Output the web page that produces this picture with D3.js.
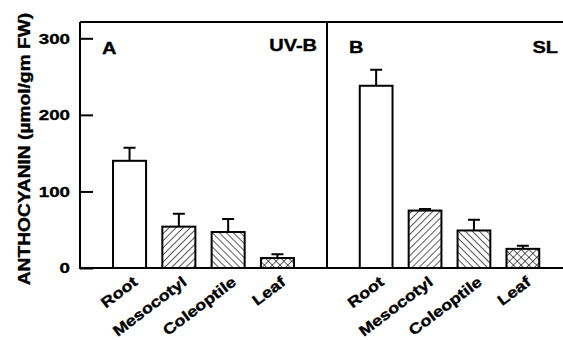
<!DOCTYPE html>
<html lang="en">
<head>
    <meta charset="UTF-8">
    <title>Anthocyanin</title>
    <style>
        body {
            margin: 0;
            background: #fff;
        }

        svg text {
            font-family: 'Liberation Sans', Arial, Helvetica, sans-serif;
            font-weight: bold;
            fill: #000;
            stroke: #000;
            stroke-width: 0.35;
        }

        .frame {
            stroke: #000;
            stroke-width: 2;
            fill: none;
        }

        .bar {
            stroke: #000;
            stroke-width: 2;
        }

        .err {
            stroke: #000;
            stroke-width: 2;
            fill: none;
        }
    </style>
</head>
<body>
    <div id="plot"></div>

    <script src="https://d3js.org/d3.v7.min.js"></script>
    <script>
        // data
        const organs = ["Root", "Mesocotyl", "Coleoptile", "Leaf"];
        const fills = ["none", "diagUp", "diagDown", "cross"];
        const uvbMeans = [140, 54, 47, 13];
        const uvbErrors = [17, 17, 17, 5];
        const slMeans = [238, 75, 49, 25];
        const slErrors = [21, 2, 14, 4];
        const yTicks = [0, 100, 200, 300];
        const panels = [
            { letter: "A", light: "UV-B", means: uvbMeans, errors: uvbErrors },
            { letter: "B", light: "SL", means: slMeans, errors: slErrors }
        ];

        const width = 563;
        const height = 340;
        const margin = { top: 22, left: 80, bottom: 72 };
        const plotBottom = height - margin.bottom;   // y of the zero line
        const divider = 327;
        const stretch = 1.25;   // the printed font is wider than Arial

        const svg = d3.select('#plot')
            .append('svg')
            .attr('width', width)
            .attr('height', height);

        // hatch patterns
        const defs = svg.append('defs');
        const hatch = (id, angle, size) => {
            const p = defs.append('pattern')
                .attr('id', id)
                .attr('patternUnits', 'userSpaceOnUse')
                .attr('width', size)
                .attr('height', size)
                .attr('patternTransform', `rotate(${angle})`);
            p.append('rect').attr('width', size).attr('height', size).attr('fill', '#fff');
            p.append('line')
                .attr('x1', 0).attr('y1', 0).attr('x2', 0).attr('y2', size)
                .attr('stroke', '#000').attr('stroke-width', 1.3);
        };
        hatch('diagUp', 45, 5);
        hatch('diagDown', -45, 5);

        const cross = defs.append('pattern')
            .attr('id', 'cross')
            .attr('patternUnits', 'userSpaceOnUse')
            .attr('width', 5.5)
            .attr('height', 5.5)
            .attr('patternTransform', 'rotate(45)');
        cross.append('rect').attr('width', 5.5).attr('height', 5.5).attr('fill', '#fff');
        cross.append('line').attr('x1', 0).attr('y1', 0).attr('x2', 0).attr('y2', 5.5)
            .attr('stroke', '#000').attr('stroke-width', 1.2);
        cross.append('line').attr('x1', 0).attr('y1', 0).attr('x2', 5.5).attr('y2', 0)
            .attr('stroke', '#000').attr('stroke-width', 1.2);

        const yScale = d3.scaleLinear()
            .domain([0, 300])
            .range([plotBottom, 38.3]);

        const panelRanges = [[margin.left, divider], [divider, 572]];

        // y axis, ticks pointing inward
        const yAxis = d3.axisRight(yScale)
            .tickValues(yTicks)
            .tickSize(13)
            .tickFormat('');

        svg.append('g')
            .attr('class', 'y axis')
            .attr('transform', `translate(${margin.left}, 0)`)
            .call(yAxis)
            .call(g => g.select('.domain').remove())
            .call(g => g.selectAll('.tick line').attr('stroke', '#000').attr('stroke-width', 2));

        svg.append('g')
            .selectAll('text')
            .data(yTicks)
            .enter()
            .append('text')
            .attr('transform', d => `translate(${margin.left - 10}, ${yScale(d)}) scale(${stretch}, 1)`)
            .attr('dy', '0.36em')
            .attr('text-anchor', 'end')
            .attr('font-size', 15)
            .text(d => d);

        // y title
        svg.append('text')
            .attr('transform', `translate(29.5, ${(15 + 283) / 2}) rotate(-90) scale(1.2, 1)`)
            .attr('text-anchor', 'middle')
            .attr('font-size', 16)
            .text('ANTHOCYANIN (\u00b5mol/gm FW)');

        panels.forEach((panel, pi) => {
            const xScale = d3.scaleBand()
                .domain(organs)
                .range(panelRanges[pi])
                .paddingInner(0.33)
                .paddingOuter(0.67);

            const g = svg.append('g');

            g.selectAll('.bar')
                .data(organs)
                .enter()
                .append('rect')
                .attr('class', 'bar')
                .attr('x', d => xScale(d))
                .attr('width', xScale.bandwidth())
                .attr('y', (d, i) => yScale(panel.means[i]))
                .attr('height', (d, i) => plotBottom - yScale(panel.means[i]))
                .attr('fill', (d, i) => fills[i] === 'none' ? '#fff' : `url(#${fills[i]})`);

            // error bars, upper half only
            g.selectAll('.err')
                .data(organs)
                .enter()
                .append('path')
                .attr('class', 'err')
                .attr('d', (d, i) => {
                    const cx = xScale(d) + xScale.bandwidth() / 2;
                    const y0 = yScale(panel.means[i]);
                    const y1 = yScale(panel.means[i] + panel.errors[i]);
                    return `M${cx},${y0}V${y1}M${cx - 6},${y1}H${cx + 6}`;
                });

            // category labels
            g.selectAll('.cat')
                .data(organs)
                .enter()
                .append('text')
                .attr('class', 'cat')
                .attr('text-anchor', 'end')
                .attr('font-size', 15)
                .attr('transform', d => {
                    const cx = xScale(d) + xScale.bandwidth() / 2;
                    return `translate(${cx + 9}, 284) rotate(-37) scale(1.2, 1)`;
                })
                .text(d => d);

            const [x0, x1] = panelRanges[pi];
            g.append('text')
                .attr('transform', `translate(${x0 + 22}, ${pi === 0 ? 54 : 53.3}) scale(${stretch}, 1)`)
                .attr('font-size', 16)
                .text(panel.letter);

            g.append('text')
                .attr('transform', `translate(${pi === 0 ? divider - 10 : width - 5}, ${pi === 0 ? 51 : 53.3}) scale(${stretch}, 1)`)
                .attr('text-anchor', 'end')
                .attr('font-size', 16)
                .text(panel.light);
        });

        // frame: left axis, top, bottom, divider
        svg.append('path')
            .attr('class', 'frame')
            .attr('d', `M${margin.left},${margin.top}V${plotBottom}H${width}M${margin.left},${margin.top}H${width}M${divider},${margin.top}V${plotBottom}`);
    </script>
</body>
</html>
